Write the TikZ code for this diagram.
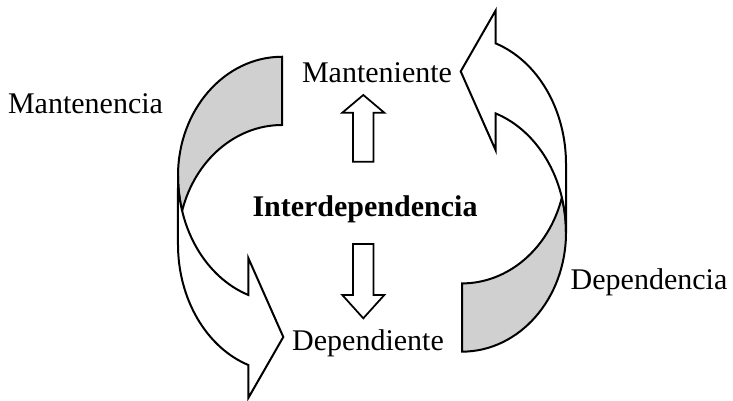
\documentclass[tikz,border=0pt]{standalone}
\usepackage{fontspec}
\setmainfont{Liberation Serif}
\usepackage{tikz}

\definecolor{backshade}{RGB}{208,208,208}

\begin{document}
\begin{tikzpicture}[x=0.4pt,y=-0.4pt,
		backface/.style={fill=backshade,draw=black,line width=0.8pt,line join=miter},
		frontface/.style={fill=white,draw=black,line width=0.8pt,line join=miter},
		blockarrow/.style={fill=white,draw=black,line width=0.7pt,line join=miter},
		txt/.style={inner sep=0pt,anchor=base,font=\fontsize{12}{14}\selectfont}]
			\useasboundingbox (0,0) rectangle (733,400);

			% left curved arrow (back face, then front face)
			\filldraw[backface] (178,175.75) arc[start angle=180,end angle=270,x radius=104,y radius=119]
				-- (282,125) arc[start angle=270,end angle=196.24,x radius=104,y radius=119]
				arc[start angle=163.76,end angle=180,x radius=104,y radius=126] -- cycle;
			\filldraw[frontface] (178,175.75) arc[start angle=180,end angle=108.9,x radius=104,y radius=126]
				-- (248.3,258) -- (283.3,337) -- (248.3,398) -- (248.3,365)
				arc[start angle=108.9,end angle=180,x radius=104,y radius=127.6] -- cycle;

			% right curved arrow, same shape turned round
			\begin{scope}[rotate around={180:(372,204.2)}]
				\filldraw[backface] (178,175.75) arc[start angle=180,end angle=270,x radius=104,y radius=119]
					-- (282,125) arc[start angle=270,end angle=196.24,x radius=104,y radius=119]
					arc[start angle=163.76,end angle=180,x radius=104,y radius=126] -- cycle;
				\filldraw[frontface] (178,175.75) arc[start angle=180,end angle=108.9,x radius=104,y radius=126]
					-- (248.3,258) -- (283.3,337) -- (248.3,398) -- (248.3,365)
					arc[start angle=108.9,end angle=180,x radius=104,y radius=127.6] -- cycle;
			\end{scope}

			% small block arrows
			\draw[blockarrow] (353,161.7) -- (353,112.7) -- (342.3,112.7) -- (363.3,95)
				-- (384.3,112.7) -- (373.6,112.7) -- (373.6,161.7) -- cycle;
			\draw[blockarrow] (353,244) -- (353,295) -- (342.3,295) -- (363.3,318.3)
				-- (384.3,295) -- (373.6,295) -- (373.6,244) -- cycle;

			\node[txt]				(mantenencia)	at (85.5,113)	{Mantenencia};
			\node[txt]				(manteniente)	at (377,82)		{Manteniente};
			\node[txt,font=\fontsize{12}{14}\selectfont\bfseries]	(inter)	at (365,216)	{Interdependencia};
			\node[txt]				(dependiente)	at (368,350)	{Dependiente};
			\node[txt]				(dependencia)	at (649,289)	{Dependencia};
		\end{tikzpicture}
\end{document}
